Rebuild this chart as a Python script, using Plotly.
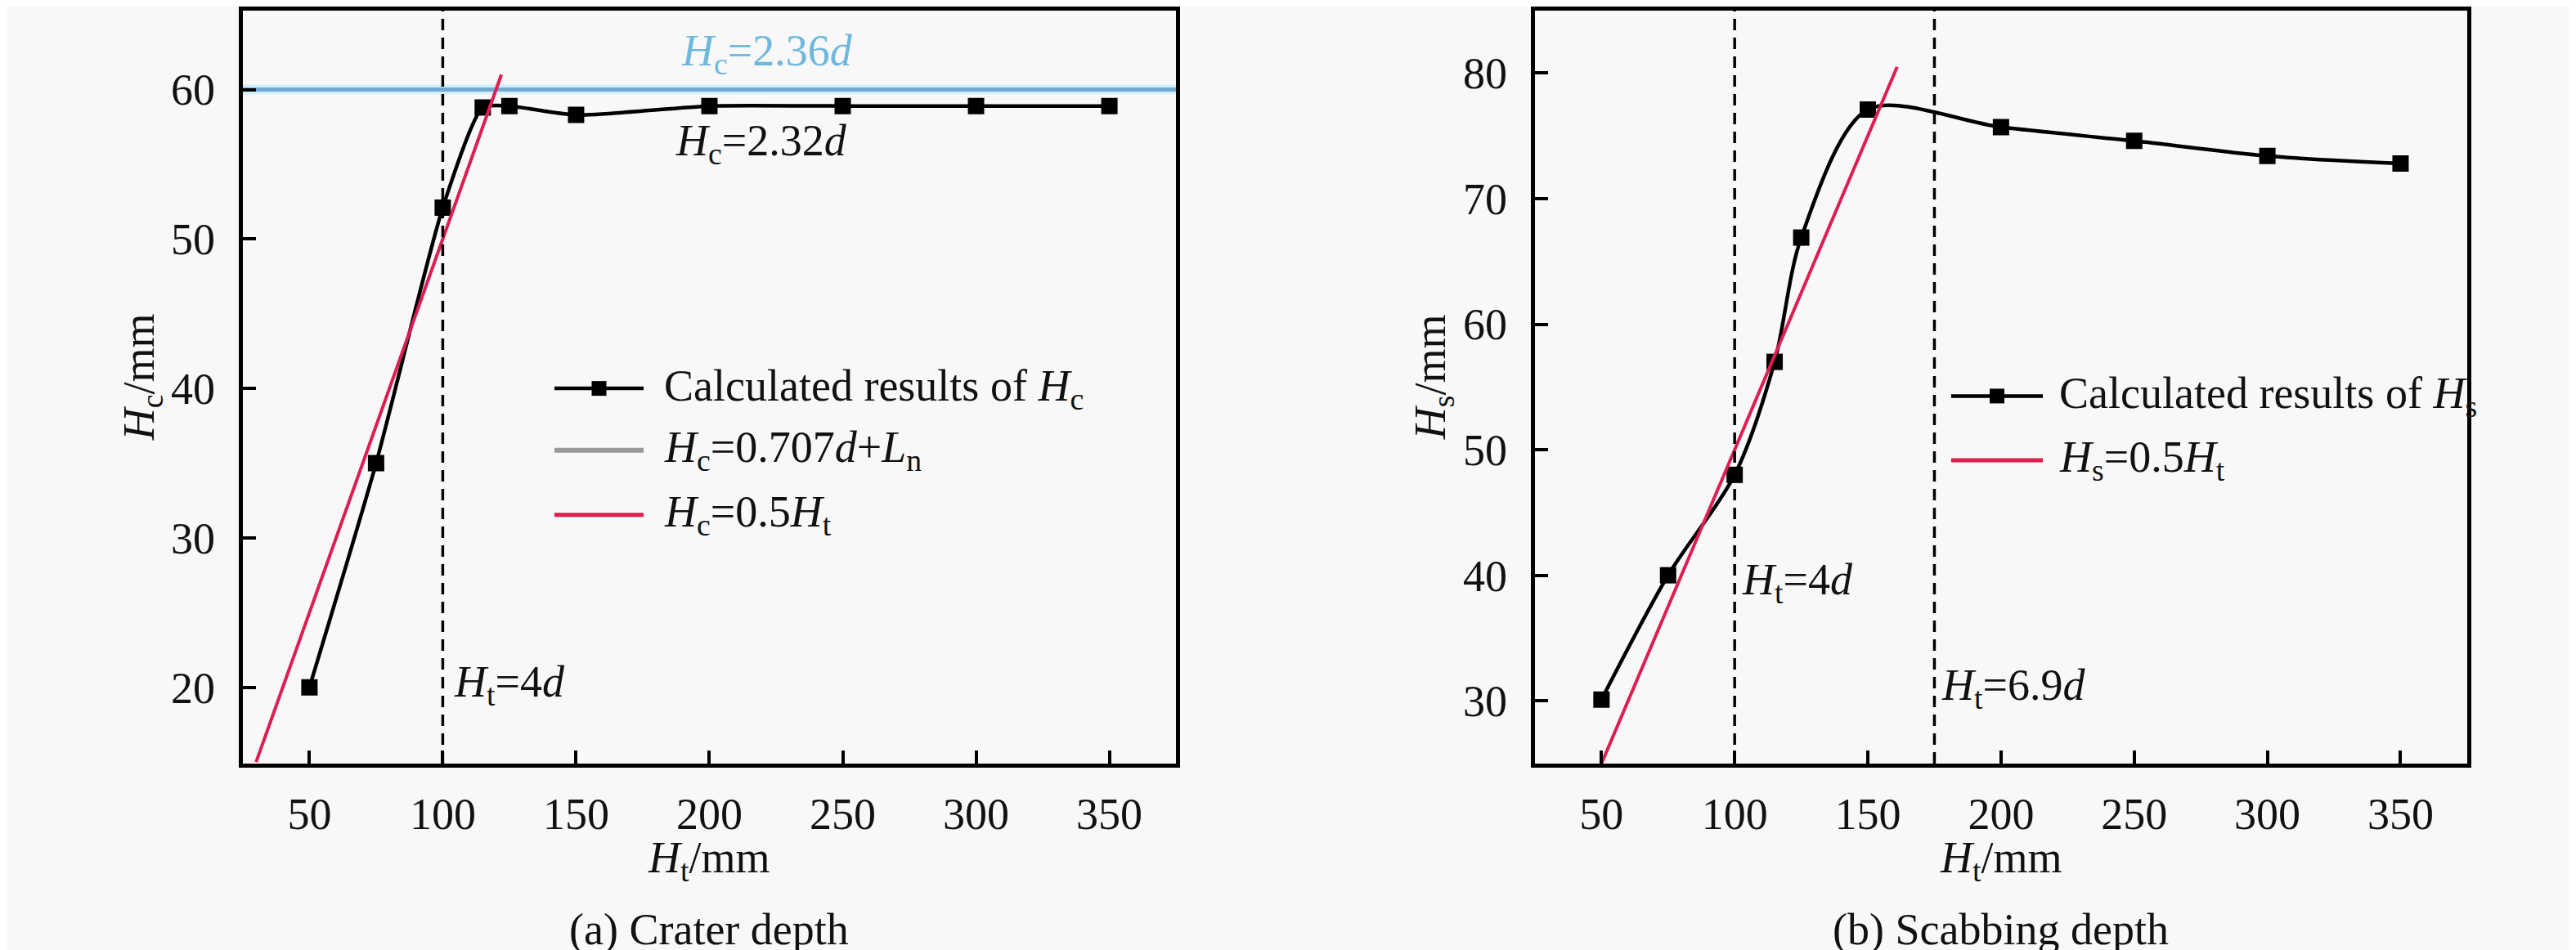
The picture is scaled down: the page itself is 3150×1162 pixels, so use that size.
import plotly.graph_objects as go

# (a) crater depth
ht_a = [50, 75, 100, 115, 125, 150, 200, 250, 300, 350]
hc_calc = [20.0, 35.0, 52.1, 58.8, 58.9, 58.3, 58.9, 58.9, 58.9, 58.9]
hc_lim_x = [25, 375]
hc_lim_y = [60.0, 60.0]
hc_half_x = [30, 122]
hc_half_y = [15.0, 61.0]

# (b) scabbing depth
ht_b = [50, 75, 100, 115, 125, 150, 200, 250, 300, 350]
hs_calc = [30.1, 40.0, 48.0, 57.0, 66.9, 77.1, 75.7, 74.6, 73.4, 72.8]
hs_half_x = [50, 161]
hs_half_y = [25.0, 80.5]

vlines_a = [100]
vlines_b = [100, 175]

x_ticks = [50, 100, 150, 200, 250, 300, 350]
ya_ticks = [20, 30, 40, 50, 60]
yb_ticks = [30, 40, 50, 60, 70, 80]

FONT = "Liberation Serif"
BG = "#f8f8f8"
INK = "#111111"
RED = "#dc1e50"
BLUE = "#72a9cf"

fig = go.Figure()

# crater panel
fig.add_trace(go.Scatter(x=hc_lim_x, y=hc_lim_y, mode="lines",
                         line=dict(color="#d2f0fa", width=12), xaxis="x", yaxis="y"))
fig.add_trace(go.Scatter(x=hc_lim_x, y=hc_lim_y, mode="lines",
                         line=dict(color=BLUE, width=5), xaxis="x", yaxis="y"))
fig.add_trace(go.Scatter(x=ht_a, y=hc_calc, mode="lines+markers",
                         line=dict(color="black", width=4.5, shape="spline", smoothing=0.6),
                         marker=dict(symbol="square", size=20, color="black"),
                         xaxis="x", yaxis="y"))
fig.add_trace(go.Scatter(x=hc_half_x, y=hc_half_y, mode="lines",
                         line=dict(color=RED, width=4), xaxis="x", yaxis="y"))

# scabbing panel
fig.add_trace(go.Scatter(x=ht_b, y=hs_calc, mode="lines+markers",
                         line=dict(color="black", width=4.5, shape="spline", smoothing=0.85),
                         marker=dict(symbol="square", size=20, color="black"),
                         xaxis="x2", yaxis="y2"))
fig.add_trace(go.Scatter(x=hs_half_x, y=hs_half_y, mode="lines",
                         line=dict(color=RED, width=4), xaxis="x2", yaxis="y2"))

shapes = []
for v in vlines_a:
    shapes.append(dict(type="line", xref="x", yref="y domain", x0=v, x1=v, y0=0, y1=1,
                       line=dict(color="black", width=3.5, dash="14px,9px")))
for v in vlines_b:
    shapes.append(dict(type="line", xref="x2", yref="y2 domain", x0=v, x1=v, y0=0, y1=1,
                       line=dict(color="black", width=3.5, dash="14px,9px")))


def legend_row(x0, x1, y, color, width, marker=False):
    shapes.append(dict(type="line", xref="paper", yref="paper", x0=x0, x1=x1, y0=y, y1=y,
                       line=dict(color=color, width=width)))
    if marker:
        xm = (x0 + x1) / 2
        shapes.append(dict(type="rect", xref="paper", yref="paper",
                           xsizemode="pixel", ysizemode="pixel", xanchor=xm, yanchor=y,
                           x0=-9, x1=9, y0=-9, y1=9,
                           fillcolor="black", line=dict(width=0)))


legend_row(0.2127, 0.2473, 0.598, "black", 4.5, marker=True)
legend_row(0.2127, 0.2473, 0.533, "#9a9a9a", 6)
legend_row(0.2127, 0.2473, 0.465, RED, 5)
legend_row(0.7549, 0.7905, 0.590, "black", 4.5, marker=True)
legend_row(0.7549, 0.7905, 0.5224, RED, 5)

tf = dict(family=FONT, size=54, color=INK)


def note(text, x, y, xref="paper", yref="paper", xanchor="left", color=INK, angle=0):
    return dict(text=text, x=x, y=y, xref=xref, yref=yref, xanchor=xanchor, yanchor="middle",
                showarrow=False, textangle=angle, font=dict(family=FONT, size=54, color=color))


annotations = [
    note("Calculated results of <i>H</i><sub>c</sub>", 0.2546, 0.598),
    note("<i>H</i><sub>c</sub>=0.707<i>d</i>+<i>L</i><sub>n</sub>", 0.2546, 0.533),
    note("<i>H</i><sub>c</sub>=0.5<i>H</i><sub>t</sub>", 0.2546, 0.465),
    note("Calculated results of <i>H</i><sub>s</sub>", 0.7961, 0.590),
    note("<i>H</i><sub>s</sub>=0.5<i>H</i><sub>t</sub>", 0.7961, 0.5224),
    note("<i>H</i><sub>c</sub>=2.36<i>d</i>", 221.6, 62.4, "x", "y", "center", color="#6fb8dc"),
    note("<i>H</i><sub>c</sub>=2.32<i>d</i>", 219.5, 56.4, "x", "y", "center"),
    note("<i>H</i><sub>t</sub>=4<i>d</i>", 103.5, 20.2, "x", "y"),
    note("<i>H</i><sub>t</sub>=4<i>d</i>", 102.0, 39.4, "x2", "y2"),
    note("<i>H</i><sub>t</sub>=6.9<i>d</i>", 177.0, 31.0, "x2", "y2"),
    note("<i>H</i><sub>t</sub>/mm", 0.5, 0.1007, "x domain", "paper", "center"),
    note("<i>H</i><sub>t</sub>/mm", 0.5, 0.1007, "x2 domain", "paper", "center"),
    note("(a) Crater depth", 0.5, 0.028, "x domain", "paper", "center"),
    note("(b) Scabbing depth", 0.5, 0.028, "x2 domain", "paper", "center"),
    note("<i>H</i><sub>c</sub>/mm", 0.0524, 0.61, angle=-90, xanchor="center"),
    note("<i>H</i><sub>s</sub>/mm", 0.5537, 0.61, angle=-90, xanchor="center"),
]

axis_common = dict(showline=True, linecolor="black", linewidth=5, mirror=True,
                   ticks="inside", ticklen=16, tickwidth=4, tickcolor="black",
                   showgrid=False, zeroline=False, tickfont=tf)

fig.update_layout(
    width=3150, height=1162,
    margin=dict(l=0, r=0, t=0, b=0),
    paper_bgcolor=BG, plot_bgcolor=BG,
    showlegend=False,
    font=dict(family=FONT, color=INK),
    xaxis=dict(domain=[0.0917, 0.4540], range=[25, 375], tickvals=x_ticks,
               anchor="y", ticklabelstandoff=10, **axis_common),
    yaxis=dict(domain=[0.2031, 0.996], range=[14.9, 65.3], tickvals=ya_ticks,
               anchor="x", ticklabelstandoff=18, **axis_common),
    xaxis2=dict(domain=[0.5933, 0.9552], range=[25, 375], tickvals=x_ticks,
                anchor="y2", ticklabelstandoff=10, **axis_common),
    yaxis2=dict(domain=[0.2031, 0.996], range=[25, 85], tickvals=yb_ticks,
                anchor="x2", ticklabelstandoff=18, **axis_common),
    shapes=shapes,
    annotations=annotations,
)

fig.write_html("out.html")
